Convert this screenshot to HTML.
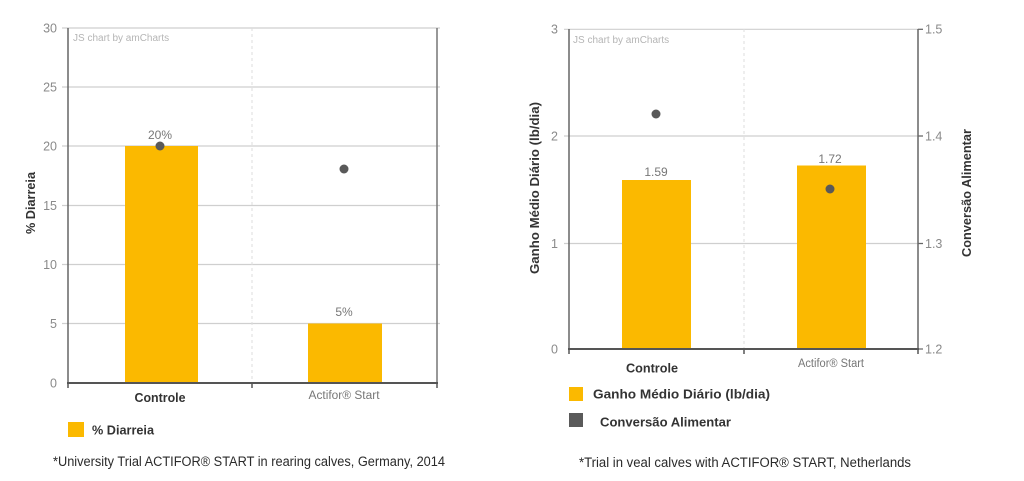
<!DOCTYPE html>
<html><head><meta charset="utf-8"><style>
html,body{margin:0;padding:0;background:#fff;}
svg{display:block;}
text{font-family:"Liberation Sans",sans-serif;}
</style></head><body>
<svg width="1024" height="481" viewBox="0 0 1024 481" xmlns="http://www.w3.org/2000/svg">
<rect width="1024" height="481" fill="#fff"/>

<!-- LEFT CHART -->
<g stroke="#cfcfcf" stroke-width="1.2">
<line x1="62" y1="28" x2="440" y2="28"/>
<line x1="62" y1="87" x2="440" y2="87"/>
<line x1="62" y1="146" x2="440" y2="146"/>
<line x1="62" y1="205.5" x2="440" y2="205.5"/>
<line x1="62" y1="264.5" x2="440" y2="264.5"/>
<line x1="62" y1="323.5" x2="440" y2="323.5"/>
</g>
<line x1="252" y1="28" x2="252" y2="383" stroke="#ddd" stroke-dasharray="3,3"/>
<text x="73" y="41" font-size="10" fill="#b5b5b5">JS chart by amCharts</text>
<g font-size="12.5" fill="#8a8a8a" text-anchor="end">
<text x="57" y="32.5">30</text>
<text x="57" y="91.5">25</text>
<text x="57" y="150.5">20</text>
<text x="57" y="210">15</text>
<text x="57" y="269">10</text>
<text x="57" y="328">5</text>
<text x="57" y="387.5">0</text>
</g>
<rect x="125" y="146" width="73" height="237" fill="#fbb900"/>
<rect x="308" y="323.5" width="74" height="59.5" fill="#fbb900"/>
<line x1="68" y1="28" x2="68" y2="384" stroke="#666" stroke-width="1.5"/>
<line x1="437" y1="28" x2="437" y2="384" stroke="#777" stroke-width="1.5"/>
<line x1="67" y1="383" x2="438" y2="383" stroke="#555" stroke-width="2"/>
<g stroke="#555" stroke-width="1.5">
<line x1="68" y1="383" x2="68" y2="388"/>
<line x1="252" y1="383" x2="252" y2="388"/>
<line x1="437" y1="383" x2="437" y2="388"/>
</g>
<circle cx="160" cy="146" r="4.5" fill="#595959"/>
<circle cx="344" cy="169" r="4.5" fill="#595959"/>
<text x="160" y="139" font-size="12" fill="#777" text-anchor="middle">20%</text>
<text x="344" y="316" font-size="12" fill="#777" text-anchor="middle">5%</text>
<text x="160" y="402" font-size="13" font-weight="bold" fill="#333" text-anchor="middle" textLength="51" lengthAdjust="spacingAndGlyphs">Controle</text>
<text x="344" y="399" font-size="11.5" fill="#777" text-anchor="middle" textLength="71" lengthAdjust="spacingAndGlyphs">Actifor® Start</text>
<text transform="translate(35,203) rotate(-90)" font-size="13" font-weight="bold" fill="#333" text-anchor="middle" textLength="62" lengthAdjust="spacingAndGlyphs">% Diarreia</text>
<rect x="68" y="422" width="16" height="15" fill="#fbb900"/>
<text x="92" y="434.5" font-size="13" font-weight="bold" fill="#333" textLength="62" lengthAdjust="spacingAndGlyphs">% Diarreia</text>
<text x="53" y="466" font-size="13.5" fill="#2a2a2a" textLength="392" lengthAdjust="spacingAndGlyphs">*University Trial ACTIFOR® START in rearing calves, Germany, 2014</text>

<!-- RIGHT CHART -->
<g stroke="#cfcfcf" stroke-width="1.2">
<line x1="564" y1="29.3" x2="923" y2="29.3"/>
<line x1="564" y1="136" x2="923" y2="136"/>
<line x1="564" y1="243.5" x2="923" y2="243.5"/>
</g>
<line x1="744" y1="29" x2="744" y2="349" stroke="#ddd" stroke-dasharray="3,3"/>
<text x="573" y="43" font-size="10" fill="#b5b5b5">JS chart by amCharts</text>
<g font-size="12.5" fill="#8a8a8a" text-anchor="end">
<text x="558" y="33.5">3</text>
<text x="558" y="140.5">2</text>
<text x="558" y="248">1</text>
<text x="558" y="353.5">0</text>
</g>
<g font-size="12.5" fill="#8a8a8a">
<text x="925" y="33.5">1.5</text>
<text x="925" y="140.5">1.4</text>
<text x="925" y="248">1.3</text>
<text x="925" y="353.5">1.2</text>
</g>
<rect x="622" y="180" width="69" height="169" fill="#fbb900"/>
<rect x="797" y="165.5" width="69" height="183.5" fill="#fbb900"/>
<line x1="569" y1="29" x2="569" y2="350" stroke="#666" stroke-width="1.5"/>
<line x1="918" y1="29" x2="918" y2="350" stroke="#666" stroke-width="1.5"/>
<g stroke="#666" stroke-width="1.2">
<line x1="918" y1="29.3" x2="923" y2="29.3"/>
<line x1="918" y1="136" x2="923" y2="136"/>
<line x1="918" y1="243.5" x2="923" y2="243.5"/>
<line x1="918" y1="349" x2="923" y2="349"/>
</g>
<line x1="568" y1="349" x2="919" y2="349" stroke="#555" stroke-width="2"/>
<g stroke="#555" stroke-width="1.5">
<line x1="569" y1="349" x2="569" y2="354"/>
<line x1="744" y1="349" x2="744" y2="354"/>
<line x1="918" y1="349" x2="918" y2="354"/>
</g>
<circle cx="656" cy="114" r="4.5" fill="#595959"/>
<circle cx="830" cy="189" r="4.5" fill="#595959"/>
<text x="656" y="176" font-size="12" fill="#777" text-anchor="middle">1.59</text>
<text x="830" y="163" font-size="12" fill="#777" text-anchor="middle">1.72</text>
<text x="652" y="372.5" font-size="13" font-weight="bold" fill="#333" text-anchor="middle" textLength="52" lengthAdjust="spacingAndGlyphs">Controle</text>
<text x="831" y="367" font-size="11.5" fill="#777" text-anchor="middle" textLength="66" lengthAdjust="spacingAndGlyphs">Actifor® Start</text>
<text transform="translate(539,188) rotate(-90)" font-size="13" font-weight="bold" fill="#333" text-anchor="middle" textLength="172" lengthAdjust="spacingAndGlyphs">Ganho Médio Diário (lb/dia)</text>
<text transform="translate(971,193) rotate(-90)" font-size="13" font-weight="bold" fill="#333" text-anchor="middle" textLength="128" lengthAdjust="spacingAndGlyphs">Conversão Alimentar</text>
<rect x="569" y="387" width="14" height="14" fill="#fbb900"/>
<text x="593" y="398.5" font-size="13" font-weight="bold" fill="#333" textLength="177" lengthAdjust="spacingAndGlyphs">Ganho Médio Diário (lb/dia)</text>
<rect x="569" y="413" width="14" height="14" fill="#5a5a5a"/>
<text x="600" y="426.5" font-size="13" font-weight="bold" fill="#333" textLength="131" lengthAdjust="spacingAndGlyphs">Conversão Alimentar</text>
<text x="579" y="467" font-size="13.5" fill="#2a2a2a" textLength="332" lengthAdjust="spacingAndGlyphs">*Trial in veal calves with ACTIFOR® START, Netherlands</text>
</svg>
</body></html>
